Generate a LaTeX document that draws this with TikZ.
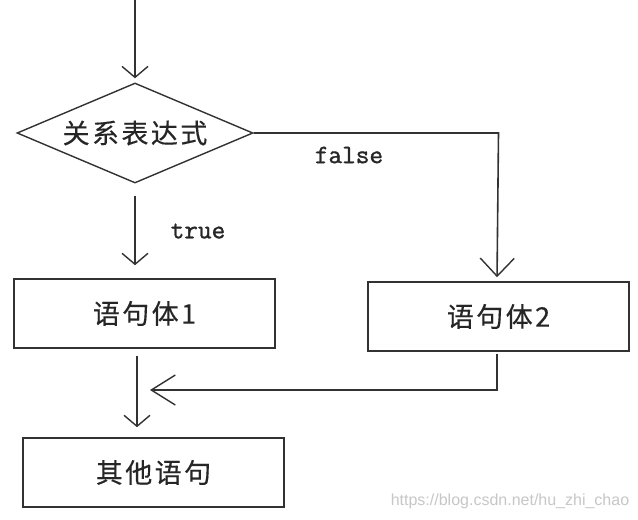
\documentclass[tikz,border=0pt]{standalone}
\usepackage{fontspec}
\newfontfamily\cjk[LetterSpace=9,FakeBold=0.3]{Noto Sans CJK SC}
\newfontfamily\monof[FakeBold=1.2]{Latin Modern Mono}
\newfontfamily\wmfont{Liberation Sans}
\usetikzlibrary{shapes.geometric,arrows.meta}
\definecolor{ln}{RGB}{50,50,50}
\tikzset{
  box/.style={draw=ln, line width=1.6pt, minimum width=261pt, minimum height=69pt, inner sep=0pt,
    font=\cjk\fontsize{27pt}{30pt}\selectfont, text=black!85},
  dia/.style={draw=ln, line width=1.4pt, diamond, aspect=2.36, minimum width=236pt, minimum height=100pt,
    inner sep=0pt, font=\cjk\fontsize{27pt}{30pt}\selectfont, text=black!85},
  conn/.style={draw=ln, line width=1.6pt},
  arrA/.style={conn, -{Straight Barb[length=11pt,width=26pt,line width=1.4pt]}},
  arrB/.style={conn, -{Straight Barb[length=18pt,width=34pt,line width=1.4pt]}},
  arrC/.style={conn, -{Straight Barb[length=24pt,width=30pt,line width=1.4pt]}},
  lbl/.style={font=\monof\fontsize{26.5pt}{29pt}\selectfont, text=black!85, inner sep=0pt},
}
\begin{document}
\begin{tikzpicture}[x=1pt,y=-1pt]
\fill[white] (0,0) rectangle (638,520);
\useasboundingbox (0,0) rectangle (638,520);

\coordinate (start) at (135,0);
\node[dia] (d) at (135,133) {\raisebox{-3pt}{关系表达式}};
\node[box] (r1) at (144.5,313.5) {语句体1};
\node[box] (r2) at (498.5,316.5) {语句体2};
\node[box] (r3) at (153.5,472.5) {其他语句};
\coordinate (j) at (150,390);

\node[lbl] (t) at (198,231) {true};
\node[lbl] (f) at (349,155) {false};
\node[font=\wmfont\fontsize{16pt}{18pt}\selectfont, text=black!22, inner sep=0pt] (wm) at (510,501) {https://blog.csdn.net/hu\_zhi\_chao};

\draw[arrA, shorten >=4pt] (start) -- (d.north);
\draw[arrA, shorten <=12pt, shorten >=13pt] (d.south) -- (d.south |- r1.north);
\draw[arrB, shorten >=4pt] (d.east) -- (d.east -| r2.north) -- ([xshift=-1.5pt]r2.north);
\draw[arrA, shorten <=7pt, shorten >=10pt] ([xshift=-7.5pt]r1.south) -- ([xshift=-16.5pt]r3.north);
\draw[arrC] ([xshift=-1.5pt,yshift=-2pt]r2.south) -- ([xshift=-1.5pt]r2.south |- j) -- (j);
\end{tikzpicture}
\end{document}
